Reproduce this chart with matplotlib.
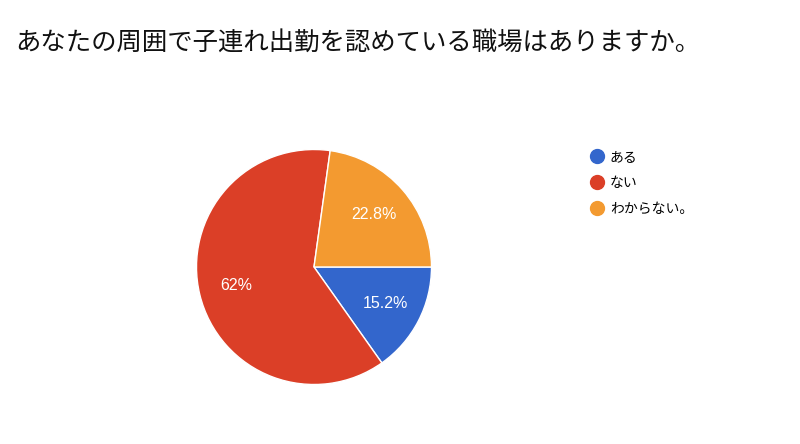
import matplotlib
matplotlib.use("Agg")
import matplotlib.pyplot as plt
from matplotlib.lines import Line2D

plt.rcParams['font.family'] = ['Noto Sans CJK JP', 'DejaVu Sans']

title = "あなたの周囲で子連れ出勤を認めている職場はありますか。"
labels = ["ある", "ない", "わからない。"]
values = [15.2, 62.0, 22.8]
pct_text = ["15.2%", "62%", "22.8%"]
colors = ["#3366CC", "#DB3F27", "#F39A30"]

fig = plt.figure(figsize=(8, 4.44), dpi=100)
fig.patch.set_facecolor("white")

# pie axes: centre ~ (314, 267) px, radius ~117 px
ax = fig.add_axes([196.5 / 800, (444 - 267 - 117.5) / 444, 235 / 800, 235 / 444])
wedges, texts, autotexts = ax.pie(
    values, colors=colors, startangle=0, counterclock=False,
    autopct="%1.1f%%", pctdistance=0.68,
    wedgeprops=dict(edgecolor="white", linewidth=1),
)
for t, s in zip(autotexts, pct_text):
    t.set_text(s)
    t.set_color("white")
    t.set_fontsize(11.5)
    t.set_family(["Liberation Sans", "DejaVu Sans"])
ax.set_xlim(-1, 1)
ax.set_ylim(-1, 1)
ax.set_aspect("equal")

fig.text(15 / 800, 1 - 43 / 444, title, fontsize=18.3, va="center", ha="left", color="#111111")

handles = [Line2D([], [], marker="o", linestyle="none", markersize=10,
                  markerfacecolor=c, markeredgecolor=c) for c in colors]
fig.legend(handles, labels, loc="upper left", bbox_to_anchor=(589 / 800, 1 - 150 / 444),
           frameon=False, fontsize=10, handletextpad=0.3, labelspacing=0.85,
           handlelength=1.2, borderaxespad=0, borderpad=0)

fig.savefig("out.png", dpi=100, facecolor="white")
